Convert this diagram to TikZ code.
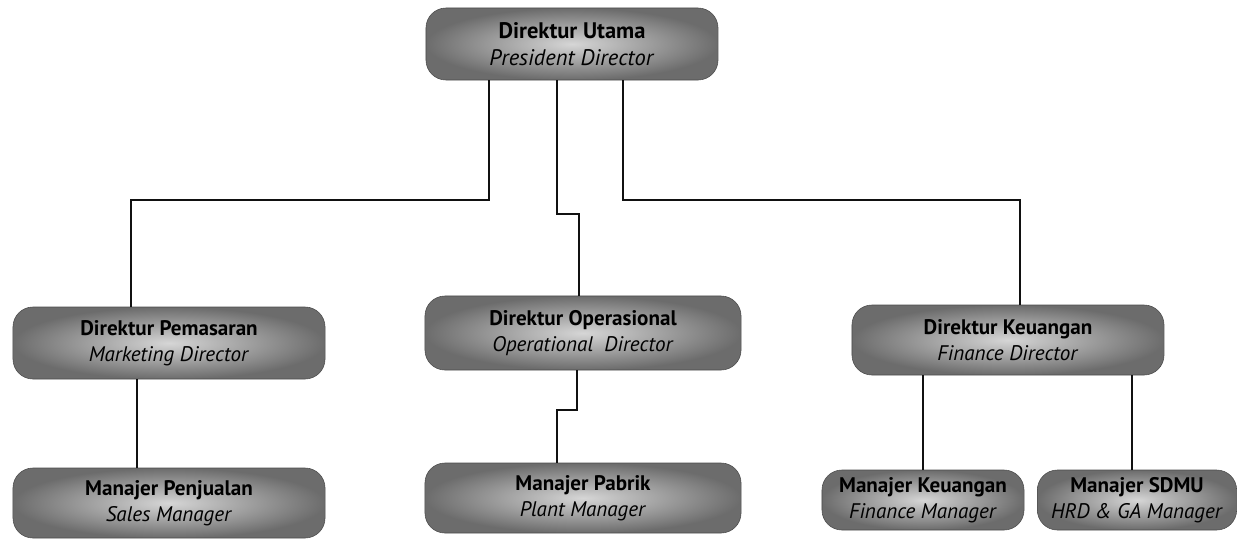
\documentclass[tikz,border=0pt]{standalone}
\usepackage{fontspec}
\setmainfont{PT Sans}
\usepackage{tikz}
\usepackage{xcolor}
\usetikzlibrary{positioning, calc}
\definecolor{cBoxIn}  {HTML}{D6D6D6}
\definecolor{cBoxOut} {HTML}{6C6C6C}
\definecolor{cLine}   {HTML}{111111}
\tikzset{
  orgbox/.style={rounded corners=0.5cm, shading=radial, inner color=cBoxIn,
    outer color=cBoxOut, draw=cBoxOut!70!black, line width=0.4pt,
    align=center, inner sep=0pt,
    font=\fontsize{15}{18.5}\selectfont, text=black},
  orglink/.style={draw=cLine, line width=1.3pt},
}
\newcommand{\jabatan}[2]{\textbf{#1}\\\textit{#2}}

\begin{document}
\begin{tikzpicture}[x=0.025cm, y=-0.025cm]
        \useasboundingbox (0,0) rectangle (1240,541);
        % top level
        \node[orgbox, minimum width=7.3cm, minimum height=1.8cm,
              font=\fontsize{16}{19}\selectfont] (utama) at (572,44)
            {\jabatan{Direktur Utama}{President Director}};
        % directors
        \node[orgbox, minimum width=7.8cm, minimum height=1.8cm] (pemasaran) at (169,343)
            {\jabatan{Direktur Pemasaran}{Marketing Director}};
        \node[orgbox, minimum width=7.9cm, minimum height=1.85cm] (operasional) at (583,333)
            {\jabatan{Direktur Operasional}{Operational\ \ Director}};
        \node[orgbox, minimum width=7.8cm, minimum height=1.75cm] (keuangan) at (1008,340)
            {\jabatan{Direktur Keuangan}{Finance Director}};
        % managers
        \node[orgbox, minimum width=7.8cm, minimum height=1.75cm] (penjualan) at (169,503)
            {\jabatan{Manajer Penjualan}{Sales Manager}};
        \node[orgbox, minimum width=7.9cm, minimum height=1.75cm] (pabrik) at (583,498)
            {\jabatan{Manajer Pabrik}{Plant Manager}};
        \node[orgbox, minimum width=5.05cm, minimum height=1.5cm] (mkeuangan) at (923,500)
            {\jabatan{Manajer Keuangan}{Finance Manager}};
        \node[orgbox, minimum width=4.98cm, minimum height=1.5cm] (msdmu) at (1137,500)
            {\jabatan{Manajer SDMU}{HRD \& GA Manager}};
        % links from the top
        \draw[orglink] ($(utama.south)+(-83,0)$) -- ++(0,120) -| ($(pemasaran.north)+(-38,0)$);
        \draw[orglink] ($(utama.south)+(-15,0)$) -- ++(0,134) -| ($(operasional.north)+(-4,0)$);
        \draw[orglink] ($(utama.south)+(51,0)$) -- ++(0,120) -| ($(keuangan.north)+(12,0)$);
        % links to managers
        \draw[orglink] ($(pemasaran.south)+(-32,0)$) -- ($(penjualan.north)+(-32,0)$);
        \draw[orglink] ($(operasional.south)+(-6,0)$) -- ++(0,40) -| ($(pabrik.north)+(-26,0)$);
        \draw[orglink] (mkeuangan.north) -- (mkeuangan.north |- keuangan.south);
        \draw[orglink] ($(msdmu.north)+(-5,0)$) -- ($(msdmu.north |- keuangan.south)+(-5,0)$);
      \end{tikzpicture}
\end{document}
